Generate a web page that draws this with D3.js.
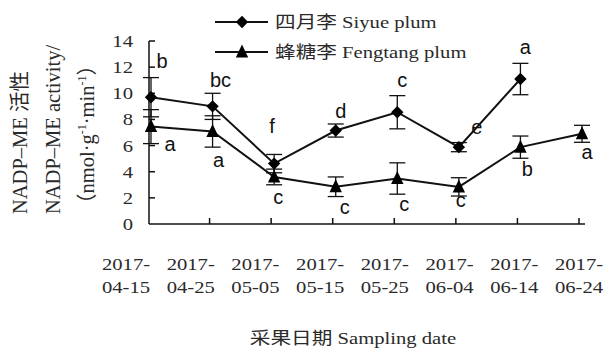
<!DOCTYPE html>
<html>
<head>
<meta charset="utf-8">
<script src="https://cdn.jsdelivr.net/npm/d3@7"></script>
<style>
  html, body { margin: 0; padding: 0; background: #fff; }
  svg { display: block; }
  .serif { font-family: "Liberation Serif", "Noto Sans CJK SC", serif; fill: #2a2a2a; }
  .sig { font-family: "Liberation Sans", Arial, sans-serif; font-size: 20px; fill: #111; }
</style>
</head>
<body>
<svg id="chart" width="605" height="348"></svg>
<script>
// Sampling dates (two-line tick labels)
const dates = ["2017-04-15", "2017-04-25", "2017-05-05", "2017-05-15",
               "2017-05-25", "2017-06-04", "2017-06-14", "2017-06-24"];

// NADP-ME activity, nmol·g⁻¹·min⁻¹ (Siyue has no 06-24 sample)
const siyue      = [9.7, 9.0, 4.62, 7.15, 8.55, 5.88, 11.09, null];
const siyueErr   = [1.5, 1.0, 0.7, 0.5, 1.27, 0.35, 1.2, null];
const fengtang   = [7.45, 7.08, 3.6, 2.85, 3.48, 2.84, 5.88, 6.9];
const fengtangErr= [1.3, 1.2, 0.6, 0.75, 1.2, 0.7, 0.85, 0.65];

// Significance letters
const siyueLetters    = ["b", "bc", "f", "d", "c", "e", "a", null];
const fengtangLetters = ["a", "a", "c", "c", "c", "c", "b", "a"];

const yTicks = [0, 2, 4, 6, 8, 10, 12, 14];

// Letter placement relative to each point (px)
const siyueLetterOffset    = [[11,-36],[8,-26],[-2,-38],[5,-20],[5,-32],[18,-20],[5,-32]];
const fengtangLetterOffset = [[19,17],[6,29],[4,20],[9,20],[7,25],[2,13],[7,22],[5,18]];

const svg = d3.select("#chart");
const SX = 1.18; // horizontal stretch of serif labels

const x = d3.scalePoint().domain(dates).range([151, 582]);
const xLab = d3.scalePoint().domain(dates).range([126, 579]);
const y = d3.scaleLinear().domain([0, 14]).range([224, 41]);
const axisLeft = 149, axisRight = 585;

// Axes
const ax = svg.append("g").attr("stroke", "#111").attr("stroke-width", 1.5);
ax.append("line").attr("x1", axisLeft).attr("x2", axisLeft).attr("y1", y(14)).attr("y2", y(0));
ax.append("line").attr("x1", axisLeft).attr("x2", axisRight).attr("y1", y(0)).attr("y2", y(0));
ax.selectAll(".yt").data(yTicks.slice(1)).join("line")
  .attr("x1", axisLeft).attr("x2", axisLeft + 6)
  .attr("y1", d => y(d)).attr("y2", d => y(d));
ax.selectAll(".xt").data(dates.slice(1)).join("line")
  .attr("x1", d => x(d) - 3).attr("x2", d => x(d) - 3)
  .attr("y1", y(0)).attr("y2", y(0) - 6);

// Y tick labels
svg.selectAll(".ylab").data(yTicks).join("text")
  .attr("class", "serif")
  .attr("font-size", 17.5)
  .attr("text-anchor", "end")
  .attr("transform", d => `translate(133,${y(d) + 6}) scale(${SX},1)`)
  .text(d => d);

// X tick labels, two lines each
const xl = svg.selectAll(".xlab").data(dates).join("text")
  .attr("class", "serif")
  .attr("font-size", 17.5)
  .attr("text-anchor", "middle")
  .attr("transform", d => `translate(${xLab(d)},270) scale(${SX},1)`);
xl.append("tspan").attr("x", 0).attr("y", 0).text(d => d.slice(0, 5));
xl.append("tspan").attr("x", 0).attr("y", 23).text(d => d.slice(5));

// Axis titles
svg.append("text").attr("class", "serif").attr("font-size", 17.5)
  .attr("text-anchor", "middle")
  .attr("transform", `translate(353,344) scale(${SX},1)`)
  .text("采果日期 Sampling date");

const yTitle = ["NADP–ME 活性", "NADP–ME activity/"];
const yTitleX = [27, 60, 94];
yTitle.forEach((t, i) => {
  svg.append("text").attr("class", "serif").attr("font-size", 20.5)
    .attr("transform", `translate(${yTitleX[i]},214) rotate(-90)`)
    .text(t);
});
const t3 = svg.append("text").attr("class", "serif").attr("font-size", 20.5)
  .attr("transform", `translate(${yTitleX[2]},214) rotate(-90)`);
t3.append("tspan").text("（nmol·g");
t3.append("tspan").attr("font-size", 12).attr("dy", -8).text("-1");
t3.append("tspan").attr("dy", 8).text("·min");
t3.append("tspan").attr("font-size", 12).attr("dy", -8).text("-1");
t3.append("tspan").attr("dy", 8).text("）");

// Marker shapes
const diamond = "M0,-6.2L6.2,0L0,6.2L-6.2,0Z";
const triangle = "M0,-7.5L6.2,5.5L-6.2,5.5Z";

function drawSeries(vals, errs, letters, offsets, sym) {
  const pts = dates.map((d, i) => ({ d, v: vals[i], e: errs[i], l: letters[i], o: offsets[i] }))
                   .filter(p => p.v != null);
  const g = svg.append("g");
  // error bars
  const eb = g.append("g").attr("stroke", "#111").attr("stroke-width", 1.3);
  pts.forEach(p => {
    const cx = x(p.d);
    eb.append("line").attr("x1", cx).attr("x2", cx).attr("y1", y(p.v + p.e)).attr("y2", y(p.v - p.e));
    [p.v + p.e, p.v - p.e].forEach(v =>
      eb.append("line").attr("x1", cx - 8).attr("x2", cx + 8).attr("y1", y(v)).attr("y2", y(v)));
  });
  g.append("path").datum(pts)
    .attr("fill", "none").attr("stroke", "#111").attr("stroke-width", 2)
    .attr("d", d3.line().x(p => x(p.d)).y(p => y(p.v)));
  g.selectAll(".m").data(pts).join("path")
    .attr("fill", "#000")
    .attr("transform", p => `translate(${x(p.d)},${y(p.v)})`)
    .attr("d", sym);
  g.selectAll(".l").data(pts).join("text")
    .attr("class", "sig").attr("text-anchor", "middle")
    .attr("x", p => x(p.d) + p.o[0])
    .attr("y", p => y(p.v) + p.o[1] + 7)
    .text(p => p.l);
}

drawSeries(fengtang, fengtangErr, fengtangLetters, fengtangLetterOffset, triangle);
drawSeries(siyue, siyueErr, siyueLetters, siyueLetterOffset, diamond);

// Legend
const legend = [
  { name: "四月李 Siyue plum", sym: diamond, y: 22 },
  { name: "蜂糖李 Fengtang plum", sym: triangle, y: 52 }
];
legend.forEach(it => {
  svg.append("line").attr("x1", 215).attr("x2", 268).attr("y1", it.y).attr("y2", it.y)
    .attr("stroke", "#111").attr("stroke-width", 2);
  svg.append("path").attr("transform", `translate(242,${it.y})`).attr("d", it.sym).attr("fill", "#000");
  svg.append("text").attr("class", "serif").attr("font-size", 17.5)
    .attr("transform", `translate(275,${it.y + 6}) scale(${SX},1)`)
    .text(it.name);
});
</script>
</body>
</html>
